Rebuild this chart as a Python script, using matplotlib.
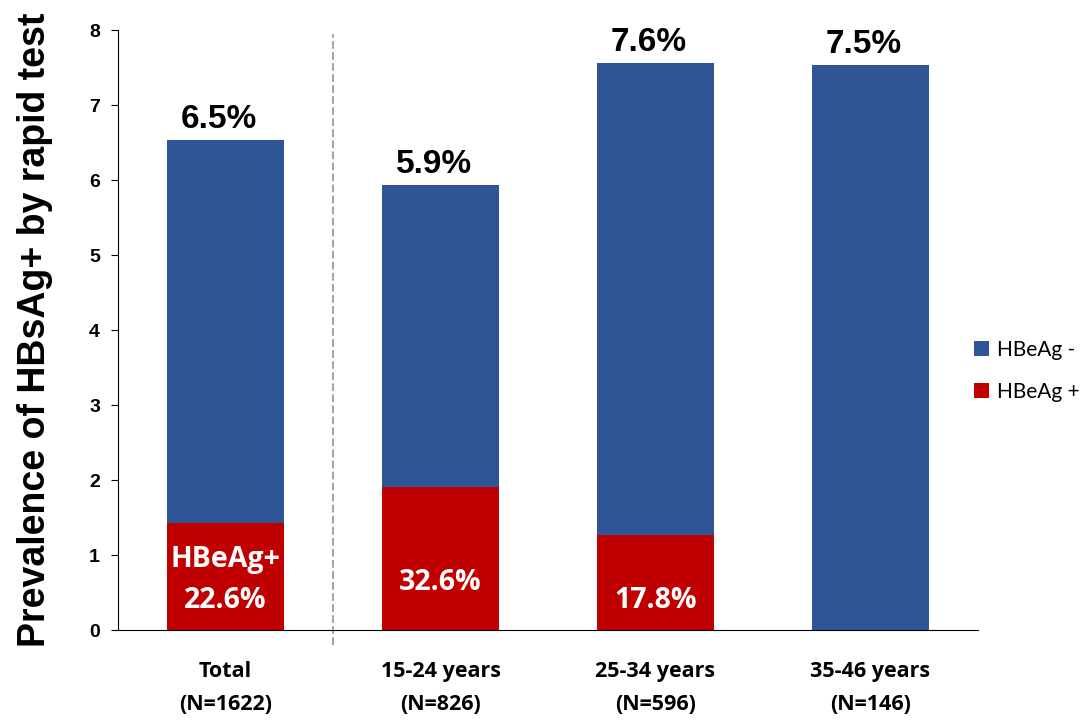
import matplotlib.pyplot as plt
import numpy as np

# data
groups = ['Total\n(N=1622)', '15-24 years\n(N=826)', '25-34 years\n(N=596)', '35-46 years\n(N=146)']
prevalence = [6.53, 5.93, 7.56, 7.53]      # total bar height (HBsAg+ %)
hbeag_pos = [1.43, 1.91, 1.27, 0.0]        # HBeAg+ part
top_labels = ['6.5%', '5.9%', '7.6%', '7.5%']
inner_labels = ['HBeAg+\n22.6%', '32.6%', '17.8%', '']
inner_y = [0.67, 0.63, 0.40, 0]

hbeag_neg = [p - q for p, q in zip(prevalence, hbeag_pos)]

blue = '#2F5597'
red = '#C00000'

fig = plt.figure(figsize=(10.84, 7.27), dpi=100)
ax = fig.add_axes([0.1089, 0.1334, 0.7933, 0.8253])

x = np.arange(len(groups))
w = 0.54
b1 = ax.bar(x, hbeag_pos, w, color=red, label='HBeAg +')
b2 = ax.bar(x, hbeag_neg, w, bottom=hbeag_pos, color=blue, label='HBeAg -')

for i in range(len(groups)):
    ax.text(x[i] - 0.03, prevalence[i] + 0.07, top_labels[i], ha='center', va='bottom',
            fontsize=24, fontweight='bold', family='Liberation Sans')
    if inner_labels[i]:
        ax.text(x[i], inner_y[i], inner_labels[i], ha='center', va='center', color='white',
                fontsize=20.5, fontweight='bold', family='Open Sans', linespacing=1.55)

# dashed separator between Total and age groups
ax.plot([0.5, 0.5], [-0.2, 7.95], color='#A6A6A6', linestyle='--', linewidth=1.5, clip_on=False)

ax.set_xlim(-0.5, 3.5)
ax.set_ylim(0, 8)
ax.set_xticks(x)
ax.set_xticklabels(groups, fontsize=15.5, fontweight='bold', family='Open Sans', linespacing=1.75)
ax.tick_params(axis='x', length=0, pad=22)
ax.set_yticks(range(0, 9))
ax.tick_params(axis='y', labelsize=14, length=5, direction='out', pad=8)
for t in ax.get_yticklabels():
    t.set_fontweight('bold')
    t.set_family('Liberation Sans')
ax.spines['top'].set_visible(False)
ax.spines['right'].set_visible(False)
ax.set_ylabel('Prevalence of HBsAg+ by rapid test', fontsize=27, fontweight='bold',
              family='Liberation Sans', labelpad=26)

handles = [b2, b1]
fig.legend(handles, ['HBeAg -', 'HBeAg +'], loc='center left', bbox_to_anchor=(0.885, 0.49),
           frameon=False, prop={'family': 'Lato', 'size': 15},
           handlelength=0.7, handleheight=0.7, labelspacing=1.05, handletextpad=0.4,
           borderpad=0.2)

plt.savefig('out.png', dpi=100)
